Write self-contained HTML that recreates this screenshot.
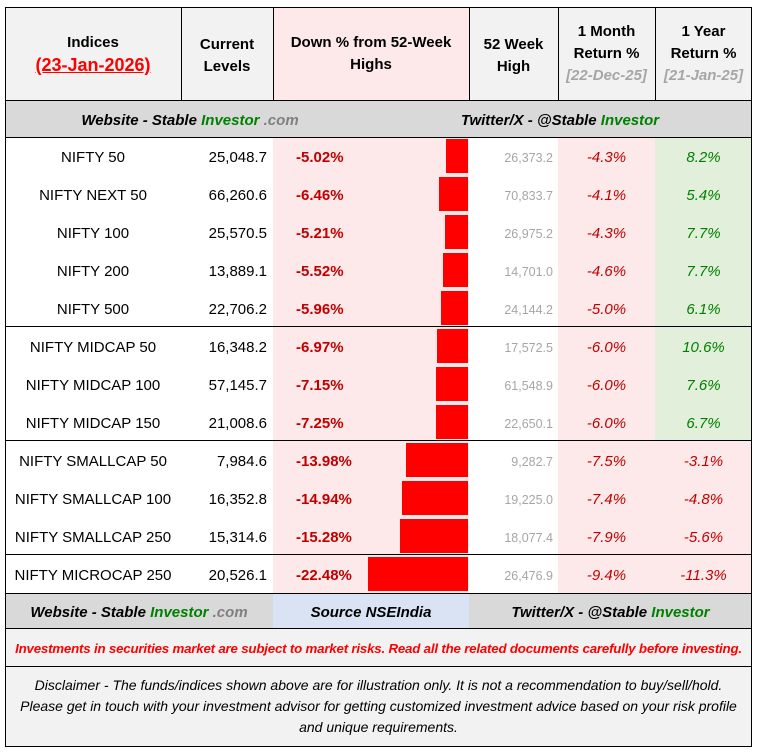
<!DOCTYPE html>
<html><head><meta charset="utf-8">
<style>
body{margin:0;background:#fff;width:757px;height:753px;overflow:hidden;font-family:"Liberation Sans",sans-serif;}
#t{position:absolute;left:0;top:0;width:757px;height:753px;}
.a{position:absolute;box-sizing:border-box;}
.c{display:flex;align-items:center;justify-content:center;text-align:center;}
.hd{font-weight:bold;font-size:15px;color:#000;line-height:22px;}
.line{position:absolute;background:#000;}
</style></head><body>
<div id="t">
 <div class="a" style="left:5px;top:7px;width:268px;height:94px;background:#f2f2f2"></div>
 <div class="a" style="left:273px;top:7px;width:196px;height:94px;background:#fde9e9"></div>
 <div class="a" style="left:469px;top:7px;width:283px;height:94px;background:#f2f2f2"></div>
 <div class="a c hd" style="left:5px;top:7px;width:176px;height:94px;flex-direction:column"><div>Indices</div><div style="color:#f00;text-decoration:underline;font-size:18px">(23-Jan-2026)</div></div>
 <div class="a c hd" style="left:181px;top:9px;width:92px;height:94px">Current<br>Levels</div>
 <div class="a c hd" style="left:273px;top:7px;width:196px;height:94px">Down % from 52-Week<br>Highs</div>
 <div class="a c hd" style="left:469px;top:9px;width:89px;height:94px">52 Week<br>High</div>
 <div class="a c hd" style="left:558px;top:7px;width:97px;height:94px;flex-direction:column"><div>1 Month</div><div>Return %</div><div style="color:#a6a6a6;font-style:italic">[22-Dec-25]</div></div>
 <div class="a c hd" style="left:655px;top:7px;width:97px;height:94px;flex-direction:column"><div>1 Year</div><div>Return %</div><div style="color:#a6a6a6;font-style:italic">[21-Jan-25]</div></div>
 <div class="a" style="left:5px;top:101px;width:747px;height:36px;background:#d9d9d9"></div>
 <div class="a c hd" style="left:5px;top:103px;width:370px;height:36px;font-style:italic">Website - Stable&nbsp;<span style="color:#008000">Investor</span>&nbsp;<span style="color:#808080">.com</span></div>
 <div class="a c hd" style="left:375px;top:103px;width:370px;height:36px;font-style:italic">Twitter/X - @Stable&nbsp;<span style="color:#008000">Investor</span></div>
 <div id="rows"></div>
 <div class="a" style="left:5px;top:593px;width:747px;height:36px;background:#d9d9d9"></div>
 <div class="a" style="left:273px;top:593px;width:196px;height:36px;background:#dae3f3"></div>
 <div class="a c hd" style="left:5px;top:595px;width:268px;height:36px;font-style:italic">Website - Stable&nbsp;<span style="color:#008000">Investor</span>&nbsp;<span style="color:#808080">.com</span></div>
 <div class="a c hd" style="left:273px;top:595px;width:196px;height:36px;font-style:italic">Source NSEIndia</div>
 <div class="a c hd" style="left:469px;top:595px;width:283px;height:36px;font-style:italic">Twitter/X - @Stable&nbsp;<span style="color:#008000">Investor</span></div>
 <div class="a" style="left:5px;top:629px;width:747px;height:117px;background:#f2f2f2"></div>
 <div class="a c" style="left:5px;top:629px;width:747px;height:38px;color:#f00;font-weight:bold;font-style:italic;font-size:13.3px;letter-spacing:-0.2px;white-space:nowrap">Investments in securities market are subject to market risks. Read all the related documents carefully before investing.</div>
 <div class="a c" style="left:14px;top:667px;width:729px;height:79px;font-style:italic;font-size:14px;line-height:21px;color:#000">Disclaimer - The funds/indices shown above are for illustration only. It is not a recommendation to buy/sell/hold. Please get in touch with your investment advisor for getting customized investment advice based on your risk profile and unique requirements.</div>
 <div id="lines"></div>
</div>
<script>
const names=["NIFTY 50","NIFTY NEXT 50","NIFTY 100","NIFTY 200","NIFTY 500","NIFTY MIDCAP 50","NIFTY MIDCAP 100","NIFTY MIDCAP 150","NIFTY SMALLCAP 50","NIFTY SMALLCAP 100","NIFTY SMALLCAP 250","NIFTY MICROCAP 250"];
const levels=["25,048.7","66,260.6","25,570.5","13,889.1","22,706.2","16,348.2","57,145.7","21,008.6","7,984.6","16,352.8","15,314.6","20,526.1"];
const downPct=[5.02,6.46,5.21,5.52,5.96,6.97,7.15,7.25,13.98,14.94,15.28,22.48];
const highs=["26,373.2","70,833.7","26,975.2","14,701.0","24,144.2","17,572.5","61,548.9","22,650.1","9,282.7","19,225.0","18,077.4","26,476.9"];
const ret1m=[-4.3,-4.1,-4.3,-4.6,-5.0,-6.0,-6.0,-6.0,-7.5,-7.4,-7.9,-9.4];
const ret1y=[8.2,5.4,7.7,7.7,6.1,10.6,7.6,6.7,-3.1,-4.8,-5.6,-11.3];
const groupEnds=[4,7,10];
const top0=137,rh=38,barScale=4.45,barRight=468;
const R=document.getElementById('rows');
function cell(l,t,w,h,css,txt){const d=document.createElement('div');d.className='a';d.style.cssText=`left:${l}px;top:${t}px;width:${w}px;height:${h}px;${css}`;if(txt!==undefined)d.textContent=txt;R.appendChild(d);return d;}
names.forEach((n,i)=>{
 const y=top0+i*rh;
 const ty=y+2;
 let d;
 d=cell(273,y,196,rh,'background:#fde9e9');
 
 
 d=cell(558,y,97,rh,'background:#fde9e9');
 
 
 d=cell(655,y,97,rh,'background:'+(ret1y[i]>=0?'#e2efda':'#fde9e9'));
 
 
 const lh=`line-height:${rh}px;`;
 d=cell(5,ty,176,rh,lh+'text-align:center;font-size:15px;color:#000',n);
 
 
 d=cell(181,ty,86,rh,lh+'text-align:right;font-size:15px;color:#000',levels[i]);
 
 
 d=cell(296,ty,80,rh,lh+'font-size:15px;font-weight:bold;color:#c00000','-'+downPct[i].toFixed(2)+'%');
 
 
 const w=downPct[i]*barScale;
 d=cell(barRight-w,y+2,w,rh-4,'background:#ff0000');
 
 
 d=cell(469,ty,84,rh,lh+'text-align:right;font-size:12.5px;color:#a6a6a6',highs[i]);
 
 
 d=cell(558,ty,97,rh,lh+'text-align:center;font-size:15px;font-style:italic;color:#c00000',ret1m[i].toFixed(1)+'%');
 
 
 d=cell(655,ty,97,rh,lh+'text-align:center;font-size:15px;font-style:italic;color:'+(ret1y[i]>=0?'#008000':'#c00000'),ret1y[i].toFixed(1)+'%');
 
 
});
const L=document.getElementById('lines');
function ln(l,t,w,h){const d=document.createElement('div');d.className='line';d.style.cssText=`left:${l}px;top:${t}px;width:${w}px;height:${h}px`;L.appendChild(d);}
ln(5,7,747,1);ln(5,746,747,1);ln(5,7,1,740);ln(751,7,1,740);
ln(5,100,747,1);ln(5,137,747,1);
[181,273,469,558,655].forEach(x=>ln(x,7,1,94));
groupEnds.forEach(g=>ln(5,top0+(g+1)*rh-1,747,1));
ln(5,593,747,1);ln(5,628,747,1);ln(5,666,747,1);
</script>
</body></html>
